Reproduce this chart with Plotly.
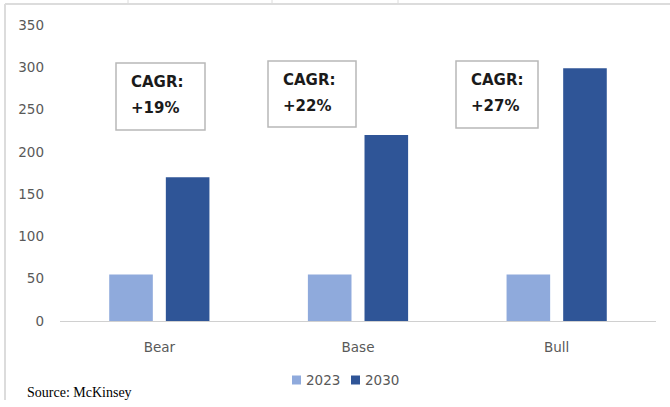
import plotly.graph_objects as go

# Scenario categories and market size values
scenarios = ["Bear", "Base", "Bull"]
values_2023 = [55, 55, 55]
values_2030 = [170, 220, 299]
cagr_labels = ["+19%", "+22%", "+27%"]
series_names = ["2023", "2030"]
y_ticks = [0, 50, 100, 150, 200, 250, 300, 350]

COLOR_2023 = "#8faadc"
COLOR_2030 = "#2f5597"
TICK_GRAY = "#595959"
SANS = "DejaVu Sans, sans-serif"

W, H = 670, 407
L, R, T, B = 60, 14, 25, 86
pw, ph = W - L - R, H - T - B


def px_x(x):
    return (x - L) / pw


def px_y(y):
    return (H - B - y) / ph


fig = go.Figure()
fig.add_trace(go.Bar(name=series_names[0], x=scenarios, y=values_2023,
                     marker=dict(color=COLOR_2023, line=dict(width=0))))
fig.add_trace(go.Bar(name=series_names[1], x=scenarios, y=values_2030,
                     marker=dict(color=COLOR_2030, line=dict(width=0))))

# CAGR callout boxes
box_x0 = [116, 268, 456]
box_x1 = [205, 356, 538]
box_y0 = [63, 61, 61]
box_y1 = [130, 127, 128]
for i, lab in enumerate(cagr_labels):
    fig.add_shape(type="rect", xref="paper", yref="paper",
                  x0=px_x(box_x0[i]), x1=px_x(box_x1[i]),
                  y0=px_y(box_y1[i]), y1=px_y(box_y0[i]),
                  line=dict(color="#b8b8b8", width=1.5), fillcolor="white")
    for line_text, dy in (("CAGR:", 19), (lab, 45)):
        fig.add_annotation(xref="paper", yref="paper",
                           x=px_x(box_x0[i] + 13), y=px_y(box_y0[i] + dy),
                           xanchor="left", yanchor="middle", align="left",
                           text=f"<b>{line_text}</b>", showarrow=False,
                           font=dict(family=SANS, size=15, color="#1a1a1a"))

# Outer frame lines
fig.add_shape(type="line", xref="paper", yref="paper",
              x0=px_x(5), x1=px_x(670), y0=px_y(4), y1=px_y(4),
              line=dict(color="#dcdcdc", width=2))
fig.add_shape(type="line", xref="paper", yref="paper",
              x0=px_x(5), x1=px_x(5), y0=px_y(4), y1=px_y(400),
              line=dict(color="#dcdcdc", width=2))
for xv in [128, 272, 398]:
    fig.add_shape(type="line", xref="paper", yref="paper",
                  x0=px_x(xv), x1=px_x(xv), y0=px_y(0), y1=px_y(4),
                  line=dict(color="#dcdcdc", width=1))

# Compact legend: colour swatch followed by series name
legend_sq_x = [292, 351]
for name, color, sx in zip(series_names, [COLOR_2023, COLOR_2030], legend_sq_x):
    fig.add_shape(type="rect", xref="paper", yref="paper",
                  x0=px_x(sx), x1=px_x(sx + 9), y0=px_y(384.5), y1=px_y(375.5),
                  line=dict(width=0), fillcolor=color)
    fig.add_annotation(xref="paper", yref="paper", x=px_x(sx + 12), y=px_y(380),
                       xanchor="left", yanchor="middle", showarrow=False,
                       text=name, font=dict(family=SANS, size=13.5, color=TICK_GRAY))

fig.add_annotation(xref="paper", yref="paper", x=px_x(25), y=px_y(392),
                   xanchor="left", yanchor="middle", showarrow=False,
                   text="Source: McKinsey",
                   font=dict(family="Liberation Serif, serif", size=14, color="#000000"))

fig.update_layout(
    width=W, height=H,
    margin=dict(l=L, r=R, t=T, b=B),
    paper_bgcolor="white", plot_bgcolor="white",
    barmode="group", bargap=0.43, bargroupgap=0.23,
    font=dict(family=SANS, color=TICK_GRAY, size=13.5),
    showlegend=False,
    xaxis=dict(showline=True, linecolor="#d0d0d0", linewidth=1, ticks="",
               ticklabelstandoff=14,
               tickfont=dict(family=SANS, size=13.5, color=TICK_GRAY)),
    yaxis=dict(range=[0, 350], tickvals=y_ticks, showgrid=False, zeroline=False,
               showline=False, ticks="", ticklabelstandoff=15,
               tickfont=dict(family=SANS, size=13.5, color=TICK_GRAY)),
)

fig.write_html("out.html")
